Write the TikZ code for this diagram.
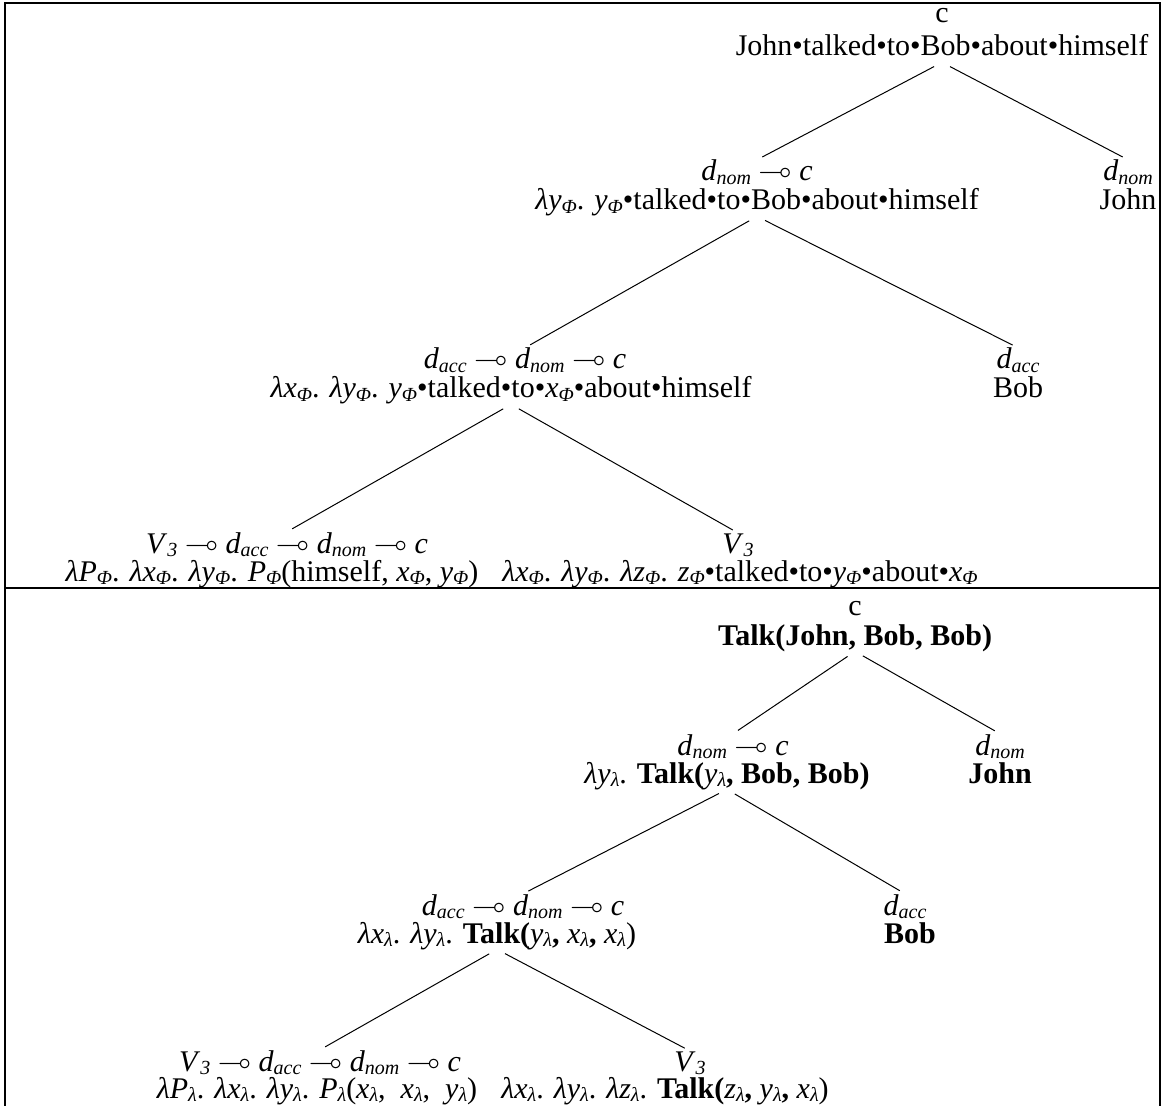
\documentclass[tikz,border=0pt]{standalone}
\usepackage{amssymb}
\usepackage{fontspec}
\setmainfont{Liberation Serif}
\usepackage{tikz}

\newcommand{\vs}[2]{\textit{#1}\raisebox{-0.25ex}{\fontsize{10}{10}\selectfont\normalfont\itshape #2}}
\newcommand{\lam}{\textit{λ}}
\newcommand{\limp}{$\multimap$}

\tikzset{
  typ/.style={anchor=base,inner sep=0pt,font=\fontsize{15}{18}\selectfont},
  trm/.style={typ,text depth=3pt},
  branch/.style={line width=0.5pt,shorten <=4.5pt,shorten >=3pt},
  frame/.style={line width=1.3pt}
}

\begin{document}
\begin{tikzpicture}[x=0.5pt,y=-0.5pt]
  \useasboundingbox (0,0) rectangle (1165,1106);
  \draw[frame] (5,1106) -- (5,3) -- (1160,3) -- (1160,1106);
  \draw[frame] (5,588) -- (1160,588);

  % upper tree: strings
  \node[typ] (ty0) at (942,23) {c};
  \node[trm] (tm0) at (942,56) {John•talked•to•Bob•about•himself};
  \node[typ] (ty1) at (757,181) {\vs{d}{nom} \limp{} \textit{c}};
  \node[trm] (tm1) at (757,210) {\lam\vs{y}{Φ}. \vs{y}{Φ}•talked•to•Bob•about•himself};
  \node[typ] (ty2) at (1128,181) {\vs{d}{nom}};
  \node[trm] (tm2) at (1128,210) {John};
  \node[typ] (ty3) at (525,369) {\vs{d}{acc} \limp{} \vs{d}{nom} \limp{} \textit{c}};
  \node[trm] (tm3) at (511,398) {\lam\vs{x}{Φ}. \lam\vs{y}{Φ}. \vs{y}{Φ}•talked•to•\vs{x}{Φ}•about•himself};
  \node[typ] (ty4) at (1018,369) {\vs{d}{acc}};
  \node[trm] (tm4) at (1018,398) {Bob};
  \node[typ] (ty5) at (287,553) {\vs{V}{3} \limp{} \vs{d}{acc} \limp{} \vs{d}{nom} \limp{} \textit{c}};
  \node[trm] (tm5) at (272,581) {\lam\vs{P}{Φ}. \lam\vs{x}{Φ}. \lam\vs{y}{Φ}. \vs{P}{Φ}(himself, \vs{x}{Φ}, \vs{y}{Φ})};
  \node[typ] (ty6) at (738,553) {\vs{V}{3}};
  \node[trm] (tm6) at (740,581) {\lam\vs{x}{Φ}. \lam\vs{y}{Φ}. \lam\vs{z}{Φ}. \vs{z}{Φ}•talked•to•\vs{y}{Φ}•about•\vs{x}{Φ}};

  \path[branch]
    (tm0.south) edge (ty1.north) edge (ty2.north)
    (tm1.south) edge (ty3.north) edge (ty4.north)
    (tm3.south) edge (ty5.north) edge (ty6.north);

  % lower tree: meanings
  \node[typ] (by0) at (855,615) {c};
  \node[trm] (bm0) at (855,645) {\textbf{Talk(John, Bob, Bob)}};
  \node[typ] (by1) at (733,755) {\vs{d}{nom} \limp{} \textit{c}};
  \node[trm] (bm1) at (727,783) {\lam\vs{y}{λ}. \textbf{Talk(}\vs{y}{λ}\textbf{, Bob, Bob)}};
  \node[typ] (by2) at (1000,755) {\vs{d}{nom}};
  \node[trm] (bm2) at (1000,783) {\textbf{John}};
  \node[typ] (by3) at (523,915) {\vs{d}{acc} \limp{} \vs{d}{nom} \limp{} \textit{c}};
  \node[trm] (bm3) at (497,943) {\lam\vs{x}{λ}. \lam\vs{y}{λ}. \textbf{Talk(}\vs{y}{λ}\textbf{,} \vs{x}{λ}\textbf{,} \vs{x}{λ})};
  \node[typ] (by4) at (905,915) {\vs{d}{acc}};
  \node[trm] (bm4) at (910,943) {\textbf{Bob}};
  \node[typ] (by5) at (320,1071) {\vs{V}{3} \limp{} \vs{d}{acc} \limp{} \vs{d}{nom} \limp{} \textit{c}};
  \node[trm] (bm5) at (317,1098) {\lam\vs{P}{λ}. \lam\vs{x}{λ}. \lam\vs{y}{λ}. \vs{P}{λ}(\vs{x}{λ},~ \vs{x}{λ},~ \vs{y}{λ})};
  \node[typ] (by6) at (690,1071) {\vs{V}{3}};
  \node[trm] (bm6) at (665,1098) {\lam\vs{x}{λ}. \lam\vs{y}{λ}. \lam\vs{z}{λ}. \textbf{Talk(}\vs{z}{λ}\textbf{,} \vs{y}{λ}\textbf{,} \vs{x}{λ})};

  \path[branch]
    (bm0.south) edge (by1.north) edge (by2.north)
    (bm1.south) edge (by3.north) edge (by4.north)
    (bm3.south) edge (by5.north) edge (by6.north);
\end{tikzpicture}
\end{document}
